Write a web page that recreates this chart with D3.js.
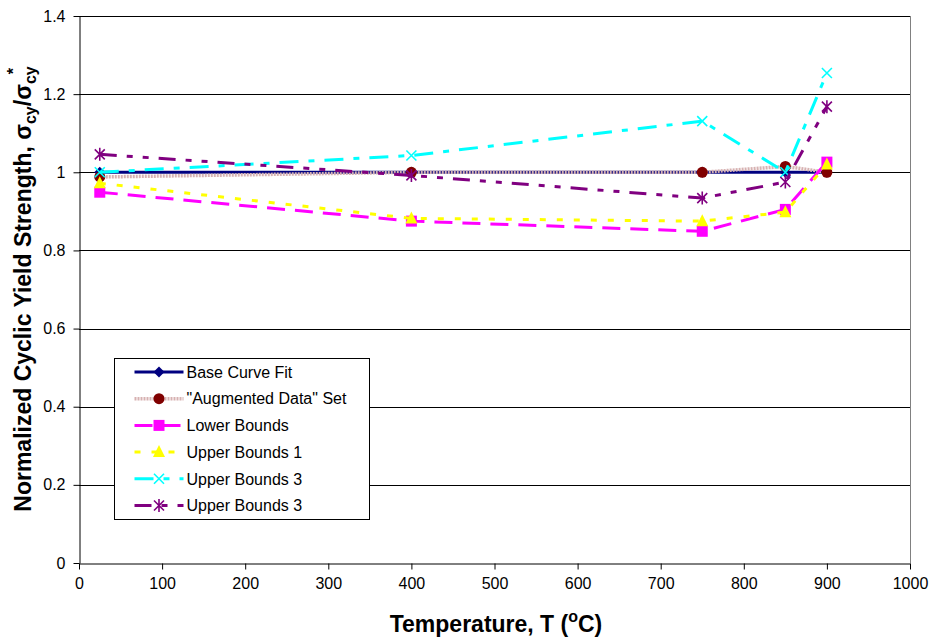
<!DOCTYPE html>
<html>
<head>
<meta charset="utf-8">
<script src="https://cdn.jsdelivr.net/npm/d3@7/dist/d3.min.js"></script>
<style>
  html, body { margin: 0; padding: 0; background: #fff; }
  svg { display: block; font-family: "Liberation Sans", Arial, sans-serif; }
</style>
</head>
<body>
<svg id="chart" width="932" height="640"></svg>
<script>
// Temperatures (°C) at which each curve is evaluated
const temperatures = [25, 400, 750, 850, 900];

// Normalized cyclic yield strength for each curve
const baseCurveFit   = [1.0, 1.0, 1.0, 1.0, 1.0];
const augmentedData  = [0.988, 1.0, 1.0, 1.015, 1.0];
const lowerBounds    = [0.949, 0.875, 0.849, 0.905, 1.026];
const upperBounds1   = [0.972, 0.882, 0.875, 0.898, 1.02];
const upperBounds3a  = [1.0, 1.043, 1.131, 1.0, 1.254];
const upperBounds3b  = [1.046, 0.992, 0.934, 0.975, 1.168];

const seriesNames = ["Base Curve Fit", "\"Augmented Data\" Set", "Lower Bounds",
                     "Upper Bounds 1", "Upper Bounds 3", "Upper Bounds 3"];

const xTicks = [0, 100, 200, 300, 400, 500, 600, 700, 800, 900, 1000];
const yTicks = [0, 0.2, 0.4, 0.6, 0.8, 1, 1.2, 1.4];

// Styling for each curve: line colour, dash, marker
const styles = [
  { stroke: "#000080", dash: null, width: 3, marker: "diamond", fill: "#000080" },
  { stroke: "#d6b1b1", dash: "2,1", width: 3.5, marker: "circle", fill: "#800000" },
  { stroke: "#ff00ff", dash: "18,10", width: 3, marker: "square", fill: "#ff00ff" },
  { stroke: "#ffff00", dash: "6,11", width: 3, marker: "triangle", fill: "#ffff00" },
  { stroke: "#00ffff", dash: "19,10,6,10", width: 3, marker: "cross", fill: "#00ffff" },
  { stroke: "#800080", dash: "17,10,6,10,6,10", width: 3, marker: "asterisk", fill: "#800080" }
];

const seriesValues = [baseCurveFit, augmentedData, lowerBounds, upperBounds1, upperBounds3a, upperBounds3b];

const svg = d3.select("#chart");
const margin = { left: 79, right: 22, top: 16, bottom: 77 };
const W = 932, H = 640;
const x = d3.scaleLinear().domain([0, 1000]).range([margin.left, W - margin.right]);
const y = d3.scaleLinear().domain([0, 1.4]).range([H - margin.bottom, margin.top]);

// Horizontal gridlines
svg.append("g")
  .selectAll("line")
  .data(yTicks.filter(d => d > 0))
  .join("line")
  .attr("x1", x(0)).attr("x2", x(1000))
  .attr("y1", d => Math.round(y(d)) + 0.5).attr("y2", d => Math.round(y(d)) + 0.5)
  .attr("stroke", "#000").attr("stroke-width", 1);

// Right border of the plot area
svg.append("line")
  .attr("x1", Math.round(x(1000)) + 0.5).attr("x2", Math.round(x(1000)) + 0.5)
  .attr("y1", Math.round(y(1.4))).attr("y2", Math.round(y(0)))
  .attr("stroke", "#808080").attr("stroke-width", 1);

// Axes
const xAxis = svg.append("g")
  .attr("transform", `translate(0,${Math.round(y(0)) + 0.5})`)
  .call(d3.axisBottom(x).tickValues(xTicks).tickFormat(d3.format("d")).tickSize(6).tickSizeOuter(0));
const yAxis = svg.append("g")
  .attr("transform", `translate(${Math.round(x(0)) + 0.5},0)`)
  .call(d3.axisLeft(y).tickValues(yTicks).tickFormat(d => d3.format("~g")(d)).tickSize(6).tickSizeOuter(0));

[xAxis, yAxis].forEach(g => {
  g.select(".domain").attr("stroke", "#000").attr("stroke-width", 1);
  g.selectAll(".tick line").attr("stroke", "#000");
  g.selectAll(".tick text")
    .attr("fill", "#000")
    .style("font-family", "'Liberation Sans', Arial, sans-serif")
    .style("font-size", "16px");
});
xAxis.selectAll(".tick text").attr("y", 14);
yAxis.selectAll(".tick text").attr("x", -14);

// Marker shapes
function drawMarker(g, kind, fill) {
  switch (kind) {
    case "diamond":
      g.append("path").attr("d", "M0,-5.5L5.5,0L0,5.5L-5.5,0Z").attr("fill", fill);
      break;
    case "circle":
      g.append("circle").attr("r", 5.5).attr("fill", fill);
      break;
    case "square":
      g.append("rect").attr("x", -5.5).attr("y", -5.5).attr("width", 11).attr("height", 11).attr("fill", fill);
      break;
    case "triangle":
      g.append("path").attr("d", "M0,-7L6,5L-6,5Z").attr("fill", fill);
      break;
    case "cross":
      g.append("path").attr("d", "M-5,-5L5,5M-5,5L5,-5").attr("stroke", fill).attr("stroke-width", 1.6).attr("fill", "none");
      break;
    case "asterisk":
      g.append("path").attr("d", "M-5,-5L5,5M-5,5L5,-5M0,-6.5L0,6.5").attr("stroke", fill).attr("stroke-width", 1.6).attr("fill", "none");
      break;
  }
}

const line = d3.line().x(d => x(d[0])).y(d => y(d[1]));

// Curves
seriesValues.forEach((vals, i) => {
  const st = styles[i];
  const pts = temperatures.map((t, j) => [t, vals[j]]);
  const g = svg.append("g").attr("class", "series");
  g.append("path")
    .datum(pts)
    .attr("d", line)
    .attr("fill", "none")
    .attr("stroke", st.stroke)
    .attr("stroke-width", st.width)
    .attr("stroke-dasharray", st.dash)
    .attr("stroke-linejoin", "round");
  g.selectAll("g.pt")
    .data(pts)
    .join("g")
    .attr("class", "pt")
    .attr("transform", d => `translate(${x(d[0])},${y(d[1])})`)
    .each(function () { drawMarker(d3.select(this), st.marker, st.fill); });
});

// Legend
const legend = svg.append("g").attr("transform", "translate(114.5,358.5)");
legend.append("rect")
  .attr("width", 255).attr("height", 161)
  .attr("fill", "#fff").attr("stroke", "#000").attr("stroke-width", 1);
seriesNames.forEach((name, i) => {
  const st = styles[i];
  const cy = 13.5 + i * 26.7;
  const row = legend.append("g").attr("transform", `translate(0,${cy})`);
  row.append("line")
    .attr("x1", 20).attr("x2", 69).attr("y1", 0).attr("y2", 0)
    .attr("stroke", st.stroke).attr("stroke-width", st.width)
    .attr("stroke-dasharray", st.dash);
  const m = row.append("g").attr("transform", "translate(44.5,0)");
  drawMarker(m, st.marker, st.fill);
  row.append("text")
    .attr("x", 72).attr("y", 0).attr("dy", "0.36em")
    .style("font-size", "16px").attr("fill", "#000")
    .text(name);
});

// Axis titles
const xt = svg.append("text")
  .attr("x", 496).attr("y", 632)
  .attr("text-anchor", "middle")
  .style("font-size", "23px").style("font-weight", "bold");
xt.append("tspan").text("Temperature, T (");
xt.append("tspan").attr("dy", -10).style("font-size", "16px").text("o");
xt.append("tspan").attr("dy", 10).text("C)");

const yt = svg.append("text")
  .attr("transform", "translate(31,289) rotate(-90)")
  .attr("text-anchor", "middle")
  .style("font-size", "23px").style("font-weight", "bold");
yt.append("tspan").text("Normalized Cyclic Yield Strength, σ");
yt.append("tspan").attr("dy", 5).style("font-size", "16px").text("cy");
yt.append("tspan").attr("dy", -5).text("/σ");
yt.append("tspan").attr("dy", 5).style("font-size", "16px").text("cy");
yt.append("tspan").attr("dy", -17).attr("dx", -8).style("font-size", "16px").text("*");
</script>
</body>
</html>
